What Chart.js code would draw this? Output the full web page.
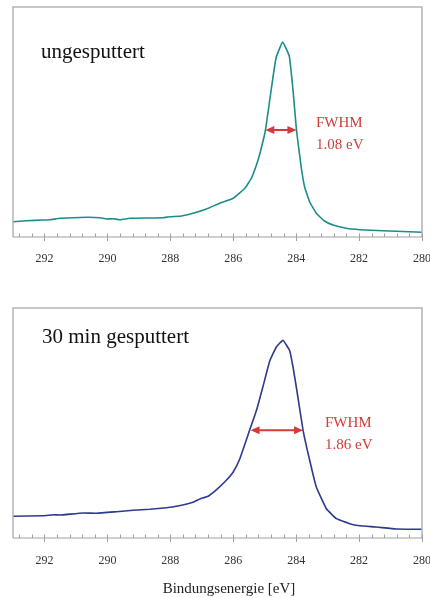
<!DOCTYPE html>
<html>
<head>
<meta charset="utf-8">
<script src="https://cdn.jsdelivr.net/npm/chart.js@4/dist/chart.umd.min.js"></script>
<style>
  html, body { margin: 0; padding: 0; background: #fff; }
  body { width: 430px; height: 598px; overflow: hidden; position: relative; }
  canvas { position: absolute; left: 0; }
  #top { top: 0; }
  #bottom { top: 290px; }
</style>
</head>
<body>
<canvas id="top" width="440" height="280"></canvas>
<canvas id="bottom" width="440" height="308"></canvas>
<script>
// C 1s spectra (binding energy in eV, intensity in arb. units)
const energyTop = [293.0, 292.57, 292.04, 291.83, 291.5, 290.66, 290.24, 290.03, 289.82, 289.6, 289.29, 288.65, 288.23, 288.02, 287.64, 287.28, 286.85, 286.43, 286.0, 285.63, 285.42, 285.21, 285.1, 284.98, 284.79, 284.64, 284.43, 284.22, 284.1, 283.99, 283.84, 283.73, 283.57, 283.36, 283.1, 282.83, 282.41, 281.98, 281.24, 280.0];
const countsTop = [15.3, 16.3, 17, 17.3, 18.7, 19.7, 19.3, 18, 18.3, 17.3, 18.7, 19, 19.3, 20.3, 21, 23.7, 28, 33.7, 38.7, 48.7, 59, 77, 90, 106, 148, 179, 195, 181, 147, 107, 70, 50, 35, 23.7, 16, 12, 8.7, 7.3, 6.3, 4.7];

const energyBottom = [293.0, 292.04, 291.72, 291.51, 290.77, 290.34, 289.71, 289.18, 288.65, 288.12, 287.8, 287.28, 287.06, 286.8, 286.53, 286.22, 286.0, 285.79, 285.48, 285.26, 285.05, 284.84, 284.63, 284.42, 284.21, 284.1, 283.99, 283.78, 283.57, 283.36, 283.04, 282.72, 282.3, 281.98, 281.45, 280.82, 280.0];
const countsBottom = [21.7, 22.3, 23.3, 23, 25, 24.7, 26.3, 27.7, 28.7, 30.3, 31.7, 35.7, 39, 41.7, 48.3, 57.7, 66, 79.3, 107.7, 127.7, 152, 177, 191, 197.7, 187.7, 171, 150, 107.7, 77.7, 51, 29.3, 19.3, 14.3, 12.3, 11, 9, 8.7];

// FWHM markers: [left energy, right energy, height]
const fwhmTop = [284.98, 283.99, 107];
const fwhmBottom = [285.45, 283.78, 107.7];

const serif = "'Liberation Serif', 'DejaVu Serif', serif";
const red = "#d43a3a";

function drawArrowHead(ctx, x, y, dir) {
  ctx.beginPath();
  ctx.moveTo(x, y);
  ctx.lineTo(x - dir * 9, y - 4);
  ctx.lineTo(x - dir * 9, y + 4);
  ctx.closePath();
  ctx.fill();
}

// frame, minor ticks, FWHM arrow and text labels
const decorations = {
  id: "decorations",
  afterDraw(chart, args, opts) {
    const { ctx, chartArea: a, scales } = chart;
    const x = scales.x, y = scales.y;
    ctx.save();

    // frame
    ctx.strokeStyle = "#b4b4b4";
    ctx.lineWidth = 1.5;
    ctx.beginPath();
    ctx.moveTo(a.left, a.bottom);
    ctx.lineTo(a.left, a.top);
    ctx.lineTo(a.right, a.top);
    ctx.lineTo(a.right, a.bottom);
    ctx.stroke();

    ctx.strokeStyle = "#a0a0a0";
    ctx.lineWidth = 1.2;
    ctx.beginPath();
    ctx.moveTo(a.left, a.bottom);
    ctx.lineTo(a.right, a.bottom);
    ctx.stroke();

    // ticks: every 0.4 eV inside, major every 2 eV crossing the axis
    ctx.lineWidth = 1;
    ctx.beginPath();
    for (let i = 0; i <= 32; i++) {
      const v = 280 + i * 0.4;
      const px = Math.round(x.getPixelForValue(v)) + 0.5;
      const major = i % 5 === 0;
      ctx.moveTo(px, a.bottom - 3.5);
      ctx.lineTo(px, a.bottom + (major ? 4 : 0));
    }
    ctx.stroke();

    // FWHM arrow
    const [e1, e2, h] = opts.fwhm;
    const x1 = x.getPixelForValue(e1), x2 = x.getPixelForValue(e2), py = y.getPixelForValue(h);
    ctx.strokeStyle = red;
    ctx.fillStyle = red;
    ctx.lineWidth = 2;
    ctx.beginPath();
    ctx.moveTo(x1 + 6, py);
    ctx.lineTo(x2 - 6, py);
    ctx.stroke();
    drawArrowHead(ctx, x1, py, -1);
    drawArrowHead(ctx, x2, py, 1);

    ctx.textBaseline = "alphabetic";
    ctx.textAlign = "left";
    ctx.font = "15px " + serif;
    ctx.fillText("FWHM", opts.fwhmText[0], opts.fwhmText[1]);
    ctx.fillText(opts.fwhmValue, opts.fwhmText[0], opts.fwhmText[1] + 22);

    ctx.fillStyle = "#111";
    ctx.font = "21px " + serif;
    ctx.fillText(opts.label, opts.labelPos[0], opts.labelPos[1]);

    if (opts.axisTitle) {
      ctx.fillStyle = "#222";
      ctx.font = "15px " + serif;
      ctx.textAlign = "center";
      ctx.fillText(opts.axisTitle, 229, chart.height - 5);
    }
    ctx.restore();
  }
};

function makeChart(id, energy, counts, color, axisHeight, padTop, deco) {
  const points = energy.map((e, i) => ({ x: e, y: counts[i] }));
  return new Chart(document.getElementById(id), {
    type: "line",
    data: {
      datasets: [{
        data: points,
        borderColor: color,
        borderWidth: 1.6,
        pointRadius: 0,
        tension: 0.1,
        fill: false
      }]
    },
    options: {
      responsive: false,
      animation: false,
      layout: { padding: { left: 13, right: 18, top: padTop, bottom: 0 } },
      plugins: {
        legend: { display: false },
        tooltip: { enabled: false },
        decorations: deco
      },
      scales: {
        x: {
          type: "linear",
          reverse: true,
          min: 280,
          max: 293,
          grid: { display: false },
          border: { display: false },
          ticks: {
            stepSize: 2,
            includeBounds: false,
            padding: deco.tickPad,
            color: "#333",
            font: { family: serif, size: 12 }
          },
          afterFit: (scale) => {
            scale.height = axisHeight;
            scale.paddingLeft = 0;
            scale.paddingRight = 0;
          }
        },
        y: { display: false, min: 0, max: 230 }
      }
    },
    plugins: [decorations]
  });
}

makeChart("top", energyTop, countsTop, "#1b8d8a", 43, 7, {
  fwhm: fwhmTop,
  fwhmText: [316, 127],
  fwhmValue: "1.08 eV",
  label: "ungesputtert",
  labelPos: [41, 58],
  tickPad: 7
});

makeChart("bottom", energyBottom, countsBottom, "#2c3b8c", 60, 18, {
  fwhm: fwhmBottom,
  fwhmText: [325, 137],
  fwhmValue: "1.86 eV",
  label: "30 min gesputtert",
  labelPos: [42, 53],
  axisTitle: "Bindungsenergie [eV]",
  tickPad: 8
});
</script>
</body>
</html>
